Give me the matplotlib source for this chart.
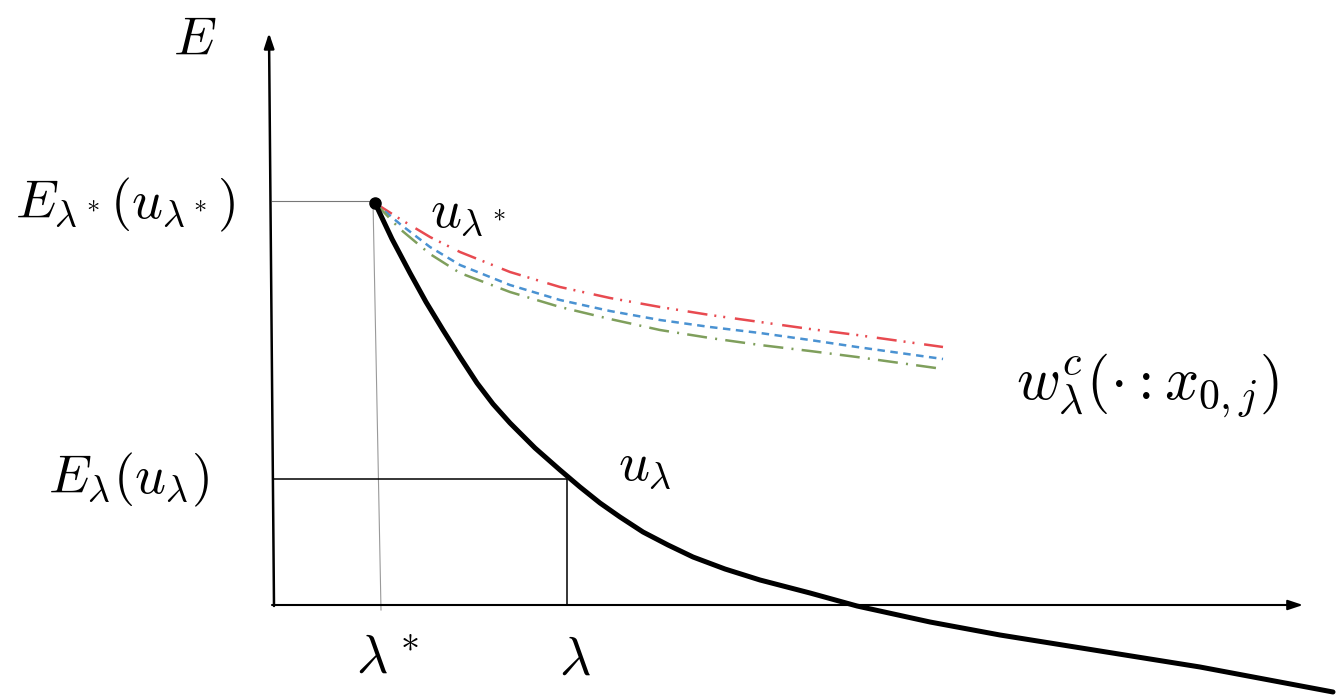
import matplotlib
matplotlib.use("Agg")
import matplotlib.pyplot as plt

plt.rcParams['mathtext.fontset'] = 'cm'

# schematic, in image pixels (y down)
u_lam_x = [375, 392, 410, 426, 443, 460, 477, 493, 510, 535, 560, 580, 600, 620, 643, 668, 693, 725, 760, 810, 857, 930, 1000, 1100, 1200, 1333]
u_lam_y = [203, 239, 273, 302, 330, 357, 383, 404, 423, 448, 470, 487, 503, 517, 532, 545, 557, 569, 580, 593, 606, 622, 635, 651, 667, 692]

w_x = [375, 400, 430, 460, 510, 560, 610, 660, 710, 760, 810, 857, 900, 943]
w_red_y = [203, 219, 237, 252, 272, 287, 298, 307, 315, 322, 329, 335, 341, 347]
w_blue_y = [203, 224, 247, 265, 285, 300, 311, 320, 327, 333, 340, 347, 353, 359]
w_green_y = [203, 229, 254, 273, 292, 307, 319, 330, 338, 345, 351, 357, 363, 369]

lam_star = 376
lam = 567
E_star = 201
E_lam = 479

fig = plt.figure(figsize=(13.4, 7), dpi=100)
ax = fig.add_axes([0, 0, 1, 1])
ax.set_xlim(0, 1340)
ax.set_ylim(700, 0)
ax.axis('off')

# axes arrows
ax.annotate('', xy=(1303, 605), xytext=(272, 605),
            arrowprops=dict(arrowstyle='-|>,head_length=0.9,head_width=0.3', lw=1.5, color='black',
                            shrinkA=0, shrinkB=0))
ax.annotate('', xy=(269, 33), xytext=(274, 606),
            arrowprops=dict(arrowstyle='-|>,head_length=0.9,head_width=0.3', lw=1.8, color='black',
                            shrinkA=0, shrinkB=0))

# guide lines
ax.plot([272, lam_star], [E_star, E_star], color='#777777', lw=0.8)
ax.plot([373, 381], [E_star, 610], color='#999999', lw=0.8)
ax.plot([274, lam, lam], [E_lam, E_lam, 605], color='black', lw=1.1)

# curves
ax.plot(w_x, w_red_y, color='#e84a50', lw=1.8, linestyle=(0, (8, 2.8, 0.8, 2.8, 0.8, 3.9)))
ax.plot(w_x, w_blue_y, color='#4a92d2', lw=1.8, linestyle=(0, (3, 2.2)))
ax.plot(w_x, w_green_y, color='#7f9f5c', lw=1.8, linestyle=(0, (8, 3.3, 0.8, 3.3)))
ax.plot(u_lam_x, u_lam_y, color='black', lw=3.6, solid_capstyle='round', solid_joinstyle='round')
ax.plot([375], [203], 'o', color='black', ms=8)

# labels
fs = 39
ax.text(195, 40, r'$E$', fontsize=fs, ha='center', va='center')
ax.text(125, 205, r'$E_{\lambda^*}(u_{\lambda^*})$', fontsize=fs, ha='center', va='center')
ax.text(468, 212, r'$u_{\lambda^*}$', fontsize=fs, ha='center', va='center')
ax.text(1147, 385, r'$w^c_\lambda(\cdot : x_{0,j})$', fontsize=43, ha='center', va='center')
ax.text(128, 480, r'$E_\lambda(u_\lambda)$', fontsize=fs, ha='center', va='center')
ax.text(645, 465, r'$u_\lambda$', fontsize=fs, ha='center', va='center')
ax.text(388, 658, r'$\lambda^*$', fontsize=fs, ha='center', va='center')
ax.text(575, 660, r'$\lambda$', fontsize=fs, ha='center', va='center')

fig.savefig('out.png', dpi=100, facecolor='white')
